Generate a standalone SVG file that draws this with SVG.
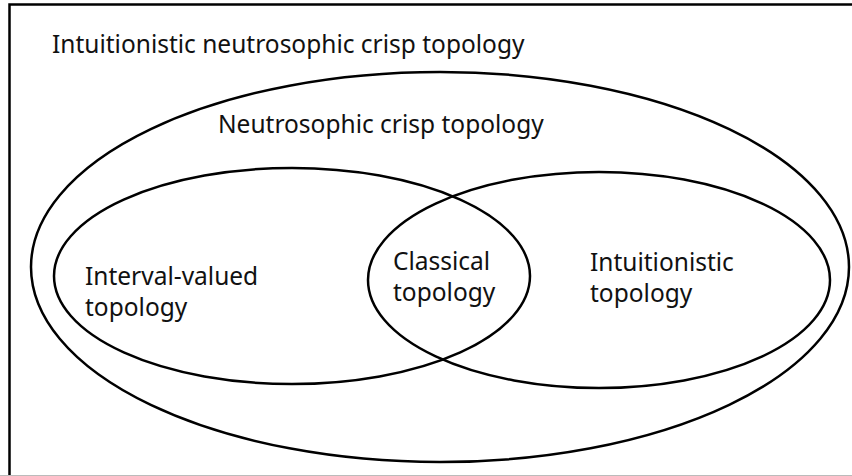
<svg xmlns="http://www.w3.org/2000/svg" width="852" height="476" viewBox="0 0 852 476">
<style>
.sh{fill:none;stroke:#000;stroke-width:2.5}
.t{font-family:"Noto Sans","Open Sans",sans-serif;font-size:24.5px;fill:#111}
</style>
<rect x="0" y="0" width="852" height="476" fill="#fff"/>
<g id="frame"><path class="sh" d="M9.5,480 V4.5 H860"/><line x1="0" y1="475.5" x2="852" y2="475.5" stroke="#bbb" stroke-width="1"/></g>
<g id="intuitionistic-neutrosophic-crisp">
<text class="t" x="52" y="53">Intuitionistic neutrosophic crisp topology</text>
</g>
<g id="neutrosophic-crisp">
<ellipse class="sh" cx="440" cy="267" rx="409" ry="195"/>
<text class="t" x="218" y="133">Neutrosophic crisp topology</text>
</g>
<g id="interval-valued">
<ellipse class="sh" cx="292" cy="276" rx="238" ry="108"/>
<text class="t" x="85" y="285">Interval-valued</text>
<text class="t" x="85" y="316">topology</text>
</g>
<g id="intuitionistic">
<ellipse class="sh" cx="599" cy="280" rx="231" ry="108"/>
<text class="t" x="590" y="271">Intuitionistic</text>
<text class="t" x="590" y="302">topology</text>
</g>
<g id="classical">
<text class="t" x="393" y="270">Classical</text>
<text class="t" x="393" y="301">topology</text>
</g>
</svg>
